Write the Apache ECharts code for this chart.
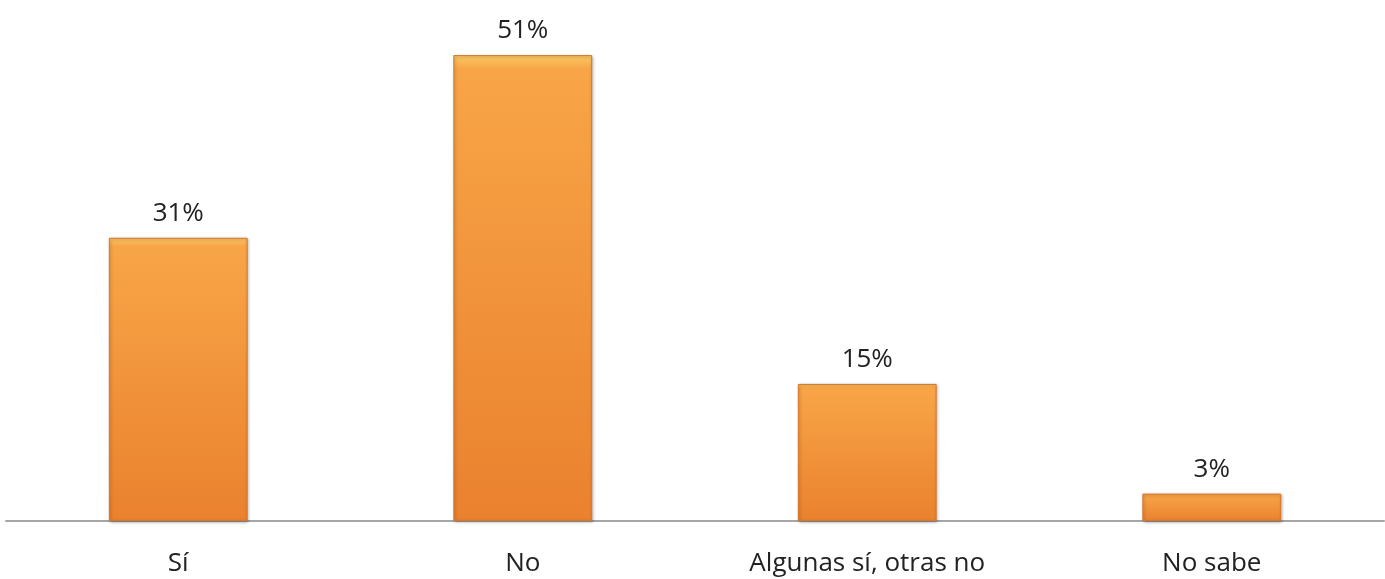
<!DOCTYPE html>
<html>
<head>
<meta charset="utf-8">
<script src="https://cdn.jsdelivr.net/npm/echarts@6/dist/echarts.min.js"></script>
<style>
  html, body { margin: 0; padding: 0; background: #fff; }
  #chart { width: 1385px; height: 579px; }
</style>
</head>
<body>
<div id="chart"></div>
<script>
const categories = ['Sí', 'No', 'Algunas sí, otras no', 'No sabe'];
const values = [31, 51, 15, 3];

const chart = echarts.init(document.getElementById('chart'));

const option = {
  animation: false,
  grid: { left: 6, right: 1, top: 18.5, bottom: 58 },
  xAxis: {
    type: 'category',
    data: categories,
    axisTick: { show: false },
    axisLine: { lineStyle: { color: '#a6a6a6', width: 2 } },
    axisLabel: {
      color: '#222',
      fontSize: 26,
      fontFamily: 'Open Sans',
      margin: 30
    }
  },
  yAxis: {
    type: 'value',
    min: 0,
    max: 55,
    show: false,
    splitLine: { show: false }
  },
  series: [{
    type: 'bar',
    data: values,
    barWidth: '40.3%',
    itemStyle: {
      color: new echarts.graphic.LinearGradient(0, 0, 0, 1, [
        { offset: 0, color: '#fbc865' },
        { offset: 0.03, color: '#f8a547' },
        { offset: 1, color: '#ea812e' }
      ]),
      borderColor: '#d8772b',
      borderWidth: 1,
      shadowColor: 'rgba(0,0,0,0.3)',
      shadowBlur: 3,
      shadowOffsetX: 1,
      shadowOffsetY: 1
    },
    label: {
      show: true,
      position: 'top',
      distance: 11,
      formatter: '{c}%',
      color: '#222',
      fontSize: 26,
      fontFamily: 'Open Sans'
    }
  }]
};

chart.setOption(option);
</script>
</body>
</html>
